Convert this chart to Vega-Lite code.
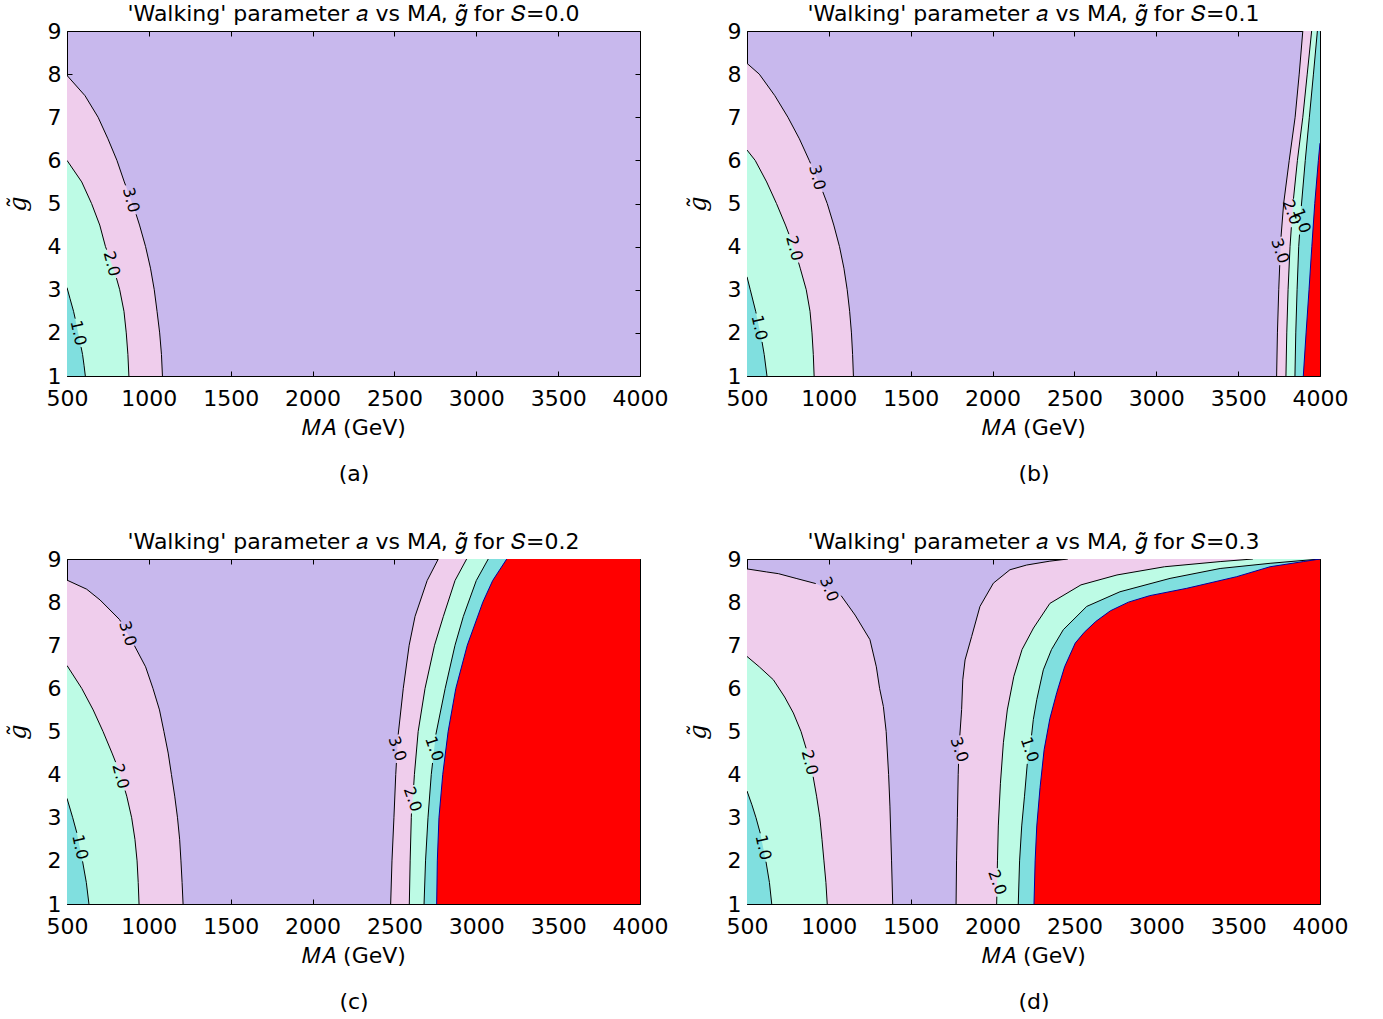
{
"$schema": "https://vega.github.io/schema/vega-lite/v6.json",
"background": "white",
"padding": {"top": 3, "left": 6, "right": 5, "bottom": 5},
"datasets": {
"cv": [
{"p":"a","c":"L1","s":0,"g":3.05,"v":500},{"p":"a","c":"L1","s":0,"g":2.8,"v":518},{"p":"a","c":"L1","s":0,"g":2.5,"v":540},{"p":"a","c":"L1","s":0,"g":2.33,"v":550},
{"p":"a","c":"L1","s":1,"g":1.67,"v":586},{"p":"a","c":"L1","s":1,"g":1.5,"v":595},{"p":"a","c":"L1","s":1,"g":1.25,"v":604},{"p":"a","c":"L1","s":1,"g":1.0,"v":612},
{"p":"a","c":"L2","s":0,"g":6.0,"v":500},{"p":"a","c":"L2","s":0,"g":5.5,"v":590},{"p":"a","c":"L2","s":0,"g":5.0,"v":650},{"p":"a","c":"L2","s":0,"g":4.5,"v":700},{"p":"a","c":"L2","s":0,"g":4.0,"v":735},{"p":"a","c":"L2","s":0,"g":3.93,"v":742},
{"p":"a","c":"L2","s":1,"g":3.27,"v":802},{"p":"a","c":"L2","s":1,"g":3.0,"v":822},{"p":"a","c":"L2","s":1,"g":2.5,"v":848},{"p":"a","c":"L2","s":1,"g":2.0,"v":862},{"p":"a","c":"L2","s":1,"g":1.5,"v":872},{"p":"a","c":"L2","s":1,"g":1.0,"v":878},
{"p":"a","c":"L3","s":0,"g":7.97,"v":500},{"p":"a","c":"L3","s":0,"g":7.5,"v":610},{"p":"a","c":"L3","s":0,"g":7.0,"v":690},{"p":"a","c":"L3","s":0,"g":6.5,"v":750},{"p":"a","c":"L3","s":0,"g":6.0,"v":805},{"p":"a","c":"L3","s":0,"g":5.5,"v":850},{"p":"a","c":"L3","s":0,"g":5.42,"v":858},
{"p":"a","c":"L3","s":1,"g":4.75,"v":922},{"p":"a","c":"L3","s":1,"g":4.5,"v":943},{"p":"a","c":"L3","s":1,"g":4.0,"v":980},{"p":"a","c":"L3","s":1,"g":3.5,"v":1010},{"p":"a","c":"L3","s":1,"g":3.0,"v":1033},{"p":"a","c":"L3","s":1,"g":2.5,"v":1050},{"p":"a","c":"L3","s":1,"g":2.0,"v":1066},{"p":"a","c":"L3","s":1,"g":1.5,"v":1077},{"p":"a","c":"L3","s":1,"g":1.0,"v":1083},

{"p":"b","c":"L1","s":0,"g":3.3,"v":500},{"p":"b","c":"L1","s":0,"g":3.0,"v":520},{"p":"b","c":"L1","s":0,"g":2.5,"v":553},{"p":"b","c":"L1","s":0,"g":2.45,"v":556},
{"p":"b","c":"L1","s":1,"g":1.79,"v":592},{"p":"b","c":"L1","s":1,"g":1.5,"v":605},{"p":"b","c":"L1","s":1,"g":1.0,"v":622},
{"p":"b","c":"L2","s":0,"g":6.24,"v":500},{"p":"b","c":"L2","s":0,"g":6.0,"v":550},{"p":"b","c":"L2","s":0,"g":5.5,"v":620},{"p":"b","c":"L2","s":0,"g":5.0,"v":680},{"p":"b","c":"L2","s":0,"g":4.5,"v":735},{"p":"b","c":"L2","s":0,"g":4.29,"v":756},
{"p":"b","c":"L2","s":1,"g":3.63,"v":815},{"p":"b","c":"L2","s":1,"g":3.5,"v":825},{"p":"b","c":"L2","s":1,"g":3.0,"v":862},{"p":"b","c":"L2","s":1,"g":2.5,"v":885},{"p":"b","c":"L2","s":1,"g":2.0,"v":897},{"p":"b","c":"L2","s":1,"g":1.5,"v":905},{"p":"b","c":"L2","s":1,"g":1.0,"v":910},
{"p":"b","c":"L3","s":0,"g":8.25,"v":500},{"p":"b","c":"L3","s":0,"g":8.0,"v":575},{"p":"b","c":"L3","s":0,"g":7.5,"v":670},{"p":"b","c":"L3","s":0,"g":7.0,"v":750},{"p":"b","c":"L3","s":0,"g":6.5,"v":820},{"p":"b","c":"L3","s":0,"g":6.0,"v":880},{"p":"b","c":"L3","s":0,"g":5.93,"v":888},
{"p":"b","c":"L3","s":1,"g":5.27,"v":963},{"p":"b","c":"L3","s":1,"g":5.0,"v":990},{"p":"b","c":"L3","s":1,"g":4.5,"v":1030},{"p":"b","c":"L3","s":1,"g":4.0,"v":1065},{"p":"b","c":"L3","s":1,"g":3.5,"v":1092},{"p":"b","c":"L3","s":1,"g":3.0,"v":1112},{"p":"b","c":"L3","s":1,"g":2.5,"v":1127},{"p":"b","c":"L3","s":1,"g":2.0,"v":1138},{"p":"b","c":"L3","s":1,"g":1.5,"v":1145},{"p":"b","c":"L3","s":1,"g":1.0,"v":1150},
{"p":"b","c":"R3","s":0,"g":1.0,"v":3735},{"p":"b","c":"R3","s":0,"g":2.0,"v":3740},{"p":"b","c":"R3","s":0,"g":3.0,"v":3748},{"p":"b","c":"R3","s":0,"g":3.57,"v":3754},
{"p":"b","c":"R3","s":1,"g":4.23,"v":3762},{"p":"b","c":"R3","s":1,"g":5.0,"v":3778},{"p":"b","c":"R3","s":1,"g":6.0,"v":3812},{"p":"b","c":"R3","s":1,"g":7.0,"v":3848},{"p":"b","c":"R3","s":1,"g":8.0,"v":3873},{"p":"b","c":"R3","s":1,"g":9.0,"v":3895},
{"p":"b","c":"R2","s":0,"g":1.0,"v":3792},{"p":"b","c":"R2","s":0,"g":2.0,"v":3797},{"p":"b","c":"R2","s":0,"g":3.0,"v":3805},{"p":"b","c":"R2","s":0,"g":4.0,"v":3817},{"p":"b","c":"R2","s":0,"g":4.45,"v":3825},
{"p":"b","c":"R2","s":1,"g":5.11,"v":3838},{"p":"b","c":"R2","s":1,"g":6.0,"v":3862},{"p":"b","c":"R2","s":1,"g":7.0,"v":3895},{"p":"b","c":"R2","s":1,"g":8.0,"v":3922},{"p":"b","c":"R2","s":1,"g":9.0,"v":3949},
{"p":"b","c":"R1","s":0,"g":1.0,"v":3847},{"p":"b","c":"R1","s":0,"g":2.0,"v":3852},{"p":"b","c":"R1","s":0,"g":3.0,"v":3860},{"p":"b","c":"R1","s":0,"g":4.0,"v":3870},{"p":"b","c":"R1","s":0,"g":4.28,"v":3875},
{"p":"b","c":"R1","s":1,"g":4.94,"v":3886},{"p":"b","c":"R1","s":1,"g":6.0,"v":3910},{"p":"b","c":"R1","s":1,"g":7.0,"v":3935},{"p":"b","c":"R1","s":1,"g":8.0,"v":3960},{"p":"b","c":"R1","s":1,"g":9.0,"v":3984},
{"p":"b","c":"R0","s":0,"g":1.0,"v":3898},{"p":"b","c":"R0","s":0,"g":2.0,"v":3915},{"p":"b","c":"R0","s":0,"g":3.0,"v":3933},{"p":"b","c":"R0","s":0,"g":4.0,"v":3950},{"p":"b","c":"R0","s":0,"g":5.0,"v":3968},{"p":"b","c":"R0","s":0,"g":6.0,"v":3990},{"p":"b","c":"R0","s":0,"g":6.4,"v":4000},

{"p":"c","c":"L1","s":0,"g":3.45,"v":500},{"p":"c","c":"L1","s":0,"g":3.0,"v":535},{"p":"c","c":"L1","s":0,"g":2.65,"v":560},
{"p":"c","c":"L1","s":1,"g":1.99,"v":595},{"p":"c","c":"L1","s":1,"g":1.5,"v":618},{"p":"c","c":"L1","s":1,"g":1.0,"v":634},
{"p":"c","c":"L2","s":0,"g":6.53,"v":500},{"p":"c","c":"L2","s":0,"g":6.0,"v":590},{"p":"c","c":"L2","s":0,"g":5.5,"v":660},{"p":"c","c":"L2","s":0,"g":5.0,"v":720},{"p":"c","c":"L2","s":0,"g":4.5,"v":775},{"p":"c","c":"L2","s":0,"g":4.29,"v":797},
{"p":"c","c":"L2","s":1,"g":3.63,"v":855},{"p":"c","c":"L2","s":1,"g":3.5,"v":865},{"p":"c","c":"L2","s":1,"g":3.0,"v":895},{"p":"c","c":"L2","s":1,"g":2.5,"v":915},{"p":"c","c":"L2","s":1,"g":2.0,"v":928},{"p":"c","c":"L2","s":1,"g":1.5,"v":935},{"p":"c","c":"L2","s":1,"g":1.0,"v":940},
{"p":"c","c":"L3","s":0,"g":8.51,"v":500},{"p":"c","c":"L3","s":0,"g":8.3,"v":620},{"p":"c","c":"L3","s":0,"g":8.05,"v":702},{"p":"c","c":"L3","s":0,"g":7.6,"v":820},{"p":"c","c":"L3","s":0,"g":7.55,"v":828},
{"p":"c","c":"L3","s":1,"g":6.99,"v":912},{"p":"c","c":"L3","s":1,"g":6.5,"v":980},{"p":"c","c":"L3","s":1,"g":6.0,"v":1025},{"p":"c","c":"L3","s":1,"g":5.5,"v":1065},{"p":"c","c":"L3","s":1,"g":5.0,"v":1092},{"p":"c","c":"L3","s":1,"g":4.5,"v":1118},{"p":"c","c":"L3","s":1,"g":4.0,"v":1138},{"p":"c","c":"L3","s":1,"g":3.5,"v":1158},{"p":"c","c":"L3","s":1,"g":3.0,"v":1175},{"p":"c","c":"L3","s":1,"g":2.5,"v":1188},{"p":"c","c":"L3","s":1,"g":2.0,"v":1196},{"p":"c","c":"L3","s":1,"g":1.5,"v":1203},{"p":"c","c":"L3","s":1,"g":1.0,"v":1209},
{"p":"c","c":"R3","s":0,"g":1.0,"v":2477},{"p":"c","c":"R3","s":0,"g":2.0,"v":2485},{"p":"c","c":"R3","s":0,"g":3.0,"v":2497},{"p":"c","c":"R3","s":0,"g":4.0,"v":2508},{"p":"c","c":"R3","s":0,"g":4.27,"v":2512},
{"p":"c","c":"R3","s":1,"g":4.93,"v":2523},{"p":"c","c":"R3","s":1,"g":6.0,"v":2554},{"p":"c","c":"R3","s":1,"g":7.0,"v":2590},{"p":"c","c":"R3","s":1,"g":7.67,"v":2626},{"p":"c","c":"R3","s":1,"g":8.5,"v":2700},{"p":"c","c":"R3","s":1,"g":9.0,"v":2768},
{"p":"c","c":"R2","s":0,"g":1.0,"v":2591},{"p":"c","c":"R2","s":0,"g":2.0,"v":2596},{"p":"c","c":"R2","s":0,"g":3.0,"v":2603},{"p":"c","c":"R2","s":0,"g":3.1,"v":2604},
{"p":"c","c":"R2","s":1,"g":3.76,"v":2618},{"p":"c","c":"R2","s":1,"g":4.0,"v":2622},{"p":"c","c":"R2","s":1,"g":5.0,"v":2645},{"p":"c","c":"R2","s":1,"g":6.0,"v":2687},{"p":"c","c":"R2","s":1,"g":7.0,"v":2745},{"p":"c","c":"R2","s":1,"g":7.67,"v":2799},{"p":"c","c":"R2","s":1,"g":8.5,"v":2870},{"p":"c","c":"R2","s":1,"g":9.0,"v":2941},
{"p":"c","c":"R1","s":0,"g":1.0,"v":2681},{"p":"c","c":"R1","s":0,"g":2.0,"v":2690},{"p":"c","c":"R1","s":0,"g":3.0,"v":2705},{"p":"c","c":"R1","s":0,"g":4.0,"v":2725},{"p":"c","c":"R1","s":0,"g":4.27,"v":2733},
{"p":"c","c":"R1","s":1,"g":4.93,"v":2753},{"p":"c","c":"R1","s":1,"g":6.0,"v":2810},{"p":"c","c":"R1","s":1,"g":7.0,"v":2870},{"p":"c","c":"R1","s":1,"g":7.67,"v":2921},{"p":"c","c":"R1","s":1,"g":8.5,"v":3000},{"p":"c","c":"R1","s":1,"g":9.0,"v":3073},
{"p":"c","c":"R0","s":0,"g":1.0,"v":2758},{"p":"c","c":"R0","s":0,"g":2.0,"v":2762},{"p":"c","c":"R0","s":0,"g":3.0,"v":2772},{"p":"c","c":"R0","s":0,"g":4.0,"v":2795},{"p":"c","c":"R0","s":0,"g":5.0,"v":2828},{"p":"c","c":"R0","s":0,"g":6.0,"v":2875},{"p":"c","c":"R0","s":0,"g":7.0,"v":2945},{"p":"c","c":"R0","s":0,"g":8.0,"v":3040},{"p":"c","c":"R0","s":0,"g":8.5,"v":3100},{"p":"c","c":"R0","s":0,"g":9.0,"v":3186},

{"p":"d","c":"L1","s":0,"g":3.62,"v":500},{"p":"d","c":"L1","s":0,"g":3.3,"v":530},{"p":"d","c":"L1","s":0,"g":3.0,"v":555},{"p":"d","c":"L1","s":0,"g":2.64,"v":581},
{"p":"d","c":"L1","s":1,"g":1.98,"v":616},{"p":"d","c":"L1","s":1,"g":1.5,"v":637},{"p":"d","c":"L1","s":1,"g":1.0,"v":651},
{"p":"d","c":"L2","s":0,"g":6.74,"v":500},{"p":"d","c":"L2","s":0,"g":6.5,"v":575},{"p":"d","c":"L2","s":0,"g":6.2,"v":661},{"p":"d","c":"L2","s":0,"g":5.8,"v":730},{"p":"d","c":"L2","s":0,"g":5.43,"v":783},{"p":"d","c":"L2","s":0,"g":5.0,"v":830},{"p":"d","c":"L2","s":0,"g":4.61,"v":861},
{"p":"d","c":"L2","s":1,"g":3.95,"v":904},{"p":"d","c":"L2","s":1,"g":3.5,"v":925},{"p":"d","c":"L2","s":1,"g":3.0,"v":945},{"p":"d","c":"L2","s":1,"g":2.5,"v":958},{"p":"d","c":"L2","s":1,"g":2.0,"v":970},{"p":"d","c":"L2","s":1,"g":1.5,"v":982},{"p":"d","c":"L2","s":1,"g":1.0,"v":990},
{"p":"d","c":"L3","s":0,"g":8.77,"v":500},{"p":"d","c":"L3","s":0,"g":8.7,"v":620},{"p":"d","c":"L3","s":0,"g":8.66,"v":692},{"p":"d","c":"L3","s":0,"g":8.55,"v":800},{"p":"d","c":"L3","s":0,"g":8.43,"v":920},
{"p":"d","c":"L3","s":1,"g":8.15,"v":1075},{"p":"d","c":"L3","s":1,"g":7.7,"v":1160},{"p":"d","c":"L3","s":1,"g":7.13,"v":1251},{"p":"d","c":"L3","s":1,"g":6.5,"v":1290},{"p":"d","c":"L3","s":1,"g":6.0,"v":1310},{"p":"d","c":"L3","s":1,"g":5.58,"v":1333},{"p":"d","c":"L3","s":1,"g":5.0,"v":1350},{"p":"d","c":"L3","s":1,"g":4.0,"v":1365},{"p":"d","c":"L3","s":1,"g":3.27,"v":1373},{"p":"d","c":"L3","s":1,"g":2.0,"v":1383},{"p":"d","c":"L3","s":1,"g":1.0,"v":1390},
{"p":"d","c":"R3","s":0,"g":1.0,"v":1777},{"p":"d","c":"R3","s":0,"g":2.0,"v":1780},{"p":"d","c":"R3","s":0,"g":3.0,"v":1785},{"p":"d","c":"R3","s":0,"g":4.0,"v":1790},{"p":"d","c":"R3","s":0,"g":4.25,"v":1792},
{"p":"d","c":"R3","s":1,"g":4.91,"v":1800},{"p":"d","c":"R3","s":1,"g":5.51,"v":1811},{"p":"d","c":"R3","s":1,"g":6.2,"v":1818},{"p":"d","c":"R3","s":1,"g":6.66,"v":1832},{"p":"d","c":"R3","s":1,"g":7.2,"v":1872},{"p":"d","c":"R3","s":1,"g":7.9,"v":1923},{"p":"d","c":"R3","s":1,"g":8.44,"v":2005},{"p":"d","c":"R3","s":1,"g":8.75,"v":2106},{"p":"d","c":"R3","s":1,"g":8.86,"v":2208},{"p":"d","c":"R3","s":1,"g":8.95,"v":2350},{"p":"d","c":"R3","s":1,"g":9.0,"v":2460},
{"p":"d","c":"R2","s":0,"g":1.0,"v":2025},{"p":"d","c":"R2","s":0,"g":1.17,"v":2026},
{"p":"d","c":"R2","s":1,"g":1.83,"v":2029},{"p":"d","c":"R2","s":1,"g":2.0,"v":2030},{"p":"d","c":"R2","s":1,"g":2.81,"v":2035},{"p":"d","c":"R2","s":1,"g":3.8,"v":2048},{"p":"d","c":"R2","s":1,"g":4.74,"v":2066},{"p":"d","c":"R2","s":1,"g":5.5,"v":2090},{"p":"d","c":"R2","s":1,"g":6.28,"v":2130},{"p":"d","c":"R2","s":1,"g":6.9,"v":2180},{"p":"d","c":"R2","s":1,"g":7.4,"v":2250},{"p":"d","c":"R2","s":1,"g":7.97,"v":2350},{"p":"d","c":"R2","s":1,"g":8.4,"v":2540},{"p":"d","c":"R2","s":1,"g":8.63,"v":2760},{"p":"d","c":"R2","s":1,"g":8.82,"v":3050},{"p":"d","c":"R2","s":1,"g":8.94,"v":3390},{"p":"d","c":"R2","s":1,"g":9.0,"v":3590},
{"p":"d","c":"R1","s":0,"g":1.0,"v":2157},{"p":"d","c":"R1","s":0,"g":2.0,"v":2165},{"p":"d","c":"R1","s":0,"g":2.81,"v":2178},{"p":"d","c":"R1","s":0,"g":3.5,"v":2195},{"p":"d","c":"R1","s":0,"g":4.25,"v":2212},
{"p":"d","c":"R1","s":1,"g":4.91,"v":2238},{"p":"d","c":"R1","s":1,"g":5.28,"v":2249},{"p":"d","c":"R1","s":1,"g":5.74,"v":2270},{"p":"d","c":"R1","s":1,"g":6.43,"v":2310},{"p":"d","c":"R1","s":1,"g":6.9,"v":2360},{"p":"d","c":"R1","s":1,"g":7.36,"v":2432},{"p":"d","c":"R1","s":1,"g":7.9,"v":2575},{"p":"d","c":"R1","s":1,"g":8.24,"v":2778},{"p":"d","c":"R1","s":1,"g":8.55,"v":3084},{"p":"d","c":"R1","s":1,"g":8.78,"v":3390},{"p":"d","c":"R1","s":1,"g":8.9,"v":3695},{"p":"d","c":"R1","s":1,"g":9.0,"v":4000},
{"p":"d","c":"R0","s":0,"g":1.0,"v":2253},{"p":"d","c":"R0","s":0,"g":2.0,"v":2260},{"p":"d","c":"R0","s":0,"g":2.81,"v":2270},{"p":"d","c":"R0","s":0,"g":3.7,"v":2290},{"p":"d","c":"R0","s":0,"g":4.58,"v":2315},{"p":"d","c":"R0","s":0,"g":5.3,"v":2350},{"p":"d","c":"R0","s":0,"g":5.9,"v":2392},{"p":"d","c":"R0","s":0,"g":6.5,"v":2440},{"p":"d","c":"R0","s":0,"g":7.05,"v":2505},{"p":"d","c":"R0","s":0,"g":7.3,"v":2560},{"p":"d","c":"R0","s":0,"g":7.55,"v":2630},{"p":"d","c":"R0","s":0,"g":7.8,"v":2720},{"p":"d","c":"R0","s":0,"g":8.0,"v":2830},{"p":"d","c":"R0","s":0,"g":8.15,"v":2960},{"p":"d","c":"R0","s":0,"g":8.32,"v":3186},{"p":"d","c":"R0","s":0,"g":8.59,"v":3491},{"p":"d","c":"R0","s":0,"g":8.82,"v":3695},{"p":"d","c":"R0","s":0,"g":8.94,"v":3898},{"p":"d","c":"R0","s":0,"g":9.0,"v":4000}
],
"lb": [
{"p":"a","t":"1.0","g":2.0,"v":568,"dir":"d1"},{"p":"a","t":"2.0","g":3.6,"v":772,"dir":"d2"},{"p":"a","t":"3.0","g":5.08,"v":890,"dir":"d2"},
{"p":"b","t":"1.0","g":2.12,"v":574,"dir":"d1"},{"p":"b","t":"2.0","g":3.96,"v":788,"dir":"d2"},{"p":"b","t":"3.0","g":5.6,"v":928,"dir":"d2"},
{"p":"b","t":"3.0","g":3.9,"v":3755,"dir":"u"},{"p":"b","t":"2.0","g":4.8,"v":3826,"dir":"u"},{"p":"b","t":"1.0","g":4.6,"v":3886,"dir":"u"},
{"p":"c","t":"1.0","g":2.32,"v":578,"dir":"d1"},{"p":"c","t":"2.0","g":3.96,"v":826,"dir":"d2"},{"p":"c","t":"3.0","g":7.27,"v":870,"dir":"d3"},
{"p":"c","t":"3.0","g":4.6,"v":2517,"dir":"u"},{"p":"c","t":"2.0","g":3.43,"v":2610,"dir":"u"},{"p":"c","t":"1.0","g":4.6,"v":2742,"dir":"u"},
{"p":"d","t":"1.0","g":2.31,"v":598,"dir":"d1"},{"p":"d","t":"2.0","g":4.28,"v":882,"dir":"d2"},{"p":"d","t":"3.0","g":8.3,"v":1000,"dir":"a"},
{"p":"d","t":"3.0","g":4.58,"v":1796,"dir":"u"},{"p":"d","t":"2.0","g":1.5,"v":2027,"dir":"u"},{"p":"d","t":"1.0","g":4.58,"v":2225,"dir":"u"}
]
},
"columns": 2,
"bounds": "flush",
"spacing": {"row": 183, "column": 107},
"concat": [
{
"width": 573, "height": 345,
"title": "'Walking' parameter 𝑎 vs M𝐴, 𝑔̃ for 𝑆=0.0",
"resolve": {"axis": {"x": "independent", "y": "independent"}},
"encoding": {
"x": {"field": "v", "type": "quantitative", "scale": {"domain": [500, 4000], "nice": false, "zero": false}, "axis": null},
"y": {"field": "g", "type": "quantitative", "scale": {"domain": [1, 9], "nice": false, "zero": false}, "axis": null}
},
"layer": [
{"data": {"name": "cv"}, "transform": [{"filter": "datum.p=='a' && datum.c=='L3'"}], "mark": {"type": "area", "orient": "horizontal", "color": "#efcdec", "clip": true},
"encoding": {
"x": {"field": "v", "type": "quantitative", "scale": {"domain": [500, 4000], "nice": false, "zero": false}, "axis": {"orient": "bottom", "values": [500,1000,1500,2000,2500,3000,3500,4000], "format": "d", "title": ["𝑀𝐴 (GeV)", "(a)"]}},
"y": {"field": "g", "type": "quantitative", "scale": {"domain": [1, 9], "nice": false, "zero": false}, "axis": {"orient": "left", "values": [1,2,3,4,5,6,7,8,9], "format": "d", "title": "g̃", "titleFont": "DejaVu Serif", "titleFontStyle": "italic", "titleFontSize": 24}},
"x2": {"datum": 500}}},
{"data": {"name": "cv"}, "transform": [{"filter": "datum.p=='a' && datum.c=='L2'"}], "mark": {"type": "area", "orient": "horizontal", "color": "#bdfbe5", "clip": true}, "encoding": {"x2": {"datum": 500}}},
{"data": {"name": "cv"}, "transform": [{"filter": "datum.p=='a' && datum.c=='L1'"}], "mark": {"type": "area", "orient": "horizontal", "color": "#80dfdf", "clip": true}, "encoding": {"x2": {"datum": 500}}},
{"data": {"name": "cv"}, "transform": [{"filter": "datum.p=='a' && datum.c!='R0'"}], "mark": {"type": "line", "color": "black", "strokeWidth": 1, "clip": true}, "encoding": {"detail": [{"field": "c"}, {"field": "s"}], "order": {"field": "g", "type": "quantitative"}}},
{"data": {"name": "lb"}, "transform": [{"filter": "datum.p=='a'"}], "mark": {"type": "text", "font": "DejaVu Sans", "fontSize": 16, "color": "black", "align": "center", "baseline": "middle"},
"encoding": {
"text": {"field": "t"},
"angle": {"field": "dir", "type": "nominal", "scale": {"domain": ["d1","d2","d3","u","a"], "range": [78,68,57,-85,27]}, "legend": null},
"x": {"field": "v", "type": "quantitative", "scale": {"domain": [500, 4000], "nice": false, "zero": false}, "axis": {"orient": "top", "values": [500,1000,1500,2000,2500,3000,3500,4000], "labels": false, "title": null}},
"y": {"field": "g", "type": "quantitative", "scale": {"domain": [1, 9], "nice": false, "zero": false}, "axis": {"orient": "right", "values": [1,2,3,4,5,6,7,8,9], "labels": false, "title": null}}}}
]
},
{
"width": 573, "height": 345,
"title": "'Walking' parameter 𝑎 vs M𝐴, 𝑔̃ for 𝑆=0.1",
"resolve": {"axis": {"x": "independent", "y": "independent"}},
"encoding": {
"x": {"field": "v", "type": "quantitative", "scale": {"domain": [500, 4000], "nice": false, "zero": false}, "axis": null},
"y": {"field": "g", "type": "quantitative", "scale": {"domain": [1, 9], "nice": false, "zero": false}, "axis": null}
},
"layer": [
{"data": {"name": "cv"}, "transform": [{"filter": "datum.p=='b' && datum.c=='L3'"}], "mark": {"type": "area", "orient": "horizontal", "color": "#efcdec", "clip": true},
"encoding": {
"x": {"field": "v", "type": "quantitative", "scale": {"domain": [500, 4000], "nice": false, "zero": false}, "axis": {"orient": "bottom", "values": [500,1000,1500,2000,2500,3000,3500,4000], "format": "d", "title": ["𝑀𝐴 (GeV)", "(b)"]}},
"y": {"field": "g", "type": "quantitative", "scale": {"domain": [1, 9], "nice": false, "zero": false}, "axis": {"orient": "left", "values": [1,2,3,4,5,6,7,8,9], "format": "d", "title": "g̃", "titleFont": "DejaVu Serif", "titleFontStyle": "italic", "titleFontSize": 24}},
"x2": {"datum": 500}}},
{"data": {"name": "cv"}, "transform": [{"filter": "datum.p=='b' && datum.c=='L2'"}], "mark": {"type": "area", "orient": "horizontal", "color": "#bdfbe5", "clip": true}, "encoding": {"x2": {"datum": 500}}},
{"data": {"name": "cv"}, "transform": [{"filter": "datum.p=='b' && datum.c=='L1'"}], "mark": {"type": "area", "orient": "horizontal", "color": "#80dfdf", "clip": true}, "encoding": {"x2": {"datum": 500}}},
{"data": {"name": "cv"}, "transform": [{"filter": "datum.p=='b' && datum.c=='R3'"}], "mark": {"type": "area", "orient": "horizontal", "color": "#efcdec", "clip": true}, "encoding": {"x2": {"datum": 4000}}},
{"data": {"name": "cv"}, "transform": [{"filter": "datum.p=='b' && datum.c=='R2'"}], "mark": {"type": "area", "orient": "horizontal", "color": "#bdfbe5", "clip": true}, "encoding": {"x2": {"datum": 4000}}},
{"data": {"name": "cv"}, "transform": [{"filter": "datum.p=='b' && datum.c=='R1'"}], "mark": {"type": "area", "orient": "horizontal", "color": "#80dfdf", "clip": true}, "encoding": {"x2": {"datum": 4000}}},
{"data": {"name": "cv"}, "transform": [{"filter": "datum.p=='b' && datum.c=='R0'"}], "mark": {"type": "area", "orient": "horizontal", "color": "#ff0000", "clip": true}, "encoding": {"x2": {"datum": 4000}}},
{"data": {"name": "cv"}, "transform": [{"filter": "datum.p=='b' && datum.c!='R0'"}], "mark": {"type": "line", "color": "black", "strokeWidth": 1, "clip": true}, "encoding": {"detail": [{"field": "c"}, {"field": "s"}], "order": {"field": "g", "type": "quantitative"}}},
{"data": {"name": "cv"}, "transform": [{"filter": "datum.p=='b' && datum.c=='R0'"}], "mark": {"type": "line", "color": "#0000a0", "strokeWidth": 1, "clip": true}, "encoding": {"order": {"field": "g", "type": "quantitative"}}},
{"data": {"name": "lb"}, "transform": [{"filter": "datum.p=='b'"}], "mark": {"type": "text", "font": "DejaVu Sans", "fontSize": 16, "color": "black", "align": "center", "baseline": "middle"},
"encoding": {
"text": {"field": "t"},
"angle": {"field": "dir", "type": "nominal", "scale": {"domain": ["d1","d2","d3","u","a"], "range": [78,68,57,-85,27]}, "legend": null},
"x": {"field": "v", "type": "quantitative", "scale": {"domain": [500, 4000], "nice": false, "zero": false}, "axis": {"orient": "top", "values": [500,1000,1500,2000,2500,3000,3500,4000], "labels": false, "title": null}},
"y": {"field": "g", "type": "quantitative", "scale": {"domain": [1, 9], "nice": false, "zero": false}, "axis": {"orient": "right", "values": [1,2,3,4,5,6,7,8,9], "labels": false, "title": null}}}}
]
},
{
"width": 573, "height": 345,
"title": "'Walking' parameter 𝑎 vs M𝐴, 𝑔̃ for 𝑆=0.2",
"resolve": {"axis": {"x": "independent", "y": "independent"}},
"encoding": {
"x": {"field": "v", "type": "quantitative", "scale": {"domain": [500, 4000], "nice": false, "zero": false}, "axis": null},
"y": {"field": "g", "type": "quantitative", "scale": {"domain": [1, 9], "nice": false, "zero": false}, "axis": null}
},
"layer": [
{"data": {"name": "cv"}, "transform": [{"filter": "datum.p=='c' && datum.c=='L3'"}], "mark": {"type": "area", "orient": "horizontal", "color": "#efcdec", "clip": true},
"encoding": {
"x": {"field": "v", "type": "quantitative", "scale": {"domain": [500, 4000], "nice": false, "zero": false}, "axis": {"orient": "bottom", "values": [500,1000,1500,2000,2500,3000,3500,4000], "format": "d", "title": ["𝑀𝐴 (GeV)", "(c)"]}},
"y": {"field": "g", "type": "quantitative", "scale": {"domain": [1, 9], "nice": false, "zero": false}, "axis": {"orient": "left", "values": [1,2,3,4,5,6,7,8,9], "format": "d", "title": "g̃", "titleFont": "DejaVu Serif", "titleFontStyle": "italic", "titleFontSize": 24}},
"x2": {"datum": 500}}},
{"data": {"name": "cv"}, "transform": [{"filter": "datum.p=='c' && datum.c=='L2'"}], "mark": {"type": "area", "orient": "horizontal", "color": "#bdfbe5", "clip": true}, "encoding": {"x2": {"datum": 500}}},
{"data": {"name": "cv"}, "transform": [{"filter": "datum.p=='c' && datum.c=='L1'"}], "mark": {"type": "area", "orient": "horizontal", "color": "#80dfdf", "clip": true}, "encoding": {"x2": {"datum": 500}}},
{"data": {"name": "cv"}, "transform": [{"filter": "datum.p=='c' && datum.c=='R3'"}], "mark": {"type": "area", "orient": "horizontal", "color": "#efcdec", "clip": true}, "encoding": {"x2": {"datum": 4000}}},
{"data": {"name": "cv"}, "transform": [{"filter": "datum.p=='c' && datum.c=='R2'"}], "mark": {"type": "area", "orient": "horizontal", "color": "#bdfbe5", "clip": true}, "encoding": {"x2": {"datum": 4000}}},
{"data": {"name": "cv"}, "transform": [{"filter": "datum.p=='c' && datum.c=='R1'"}], "mark": {"type": "area", "orient": "horizontal", "color": "#80dfdf", "clip": true}, "encoding": {"x2": {"datum": 4000}}},
{"data": {"name": "cv"}, "transform": [{"filter": "datum.p=='c' && datum.c=='R0'"}], "mark": {"type": "area", "orient": "horizontal", "color": "#ff0000", "clip": true}, "encoding": {"x2": {"datum": 4000}}},
{"data": {"name": "cv"}, "transform": [{"filter": "datum.p=='c' && datum.c!='R0'"}], "mark": {"type": "line", "color": "black", "strokeWidth": 1, "clip": true}, "encoding": {"detail": [{"field": "c"}, {"field": "s"}], "order": {"field": "g", "type": "quantitative"}}},
{"data": {"name": "cv"}, "transform": [{"filter": "datum.p=='c' && datum.c=='R0'"}], "mark": {"type": "line", "color": "#0000a0", "strokeWidth": 1, "clip": true}, "encoding": {"order": {"field": "g", "type": "quantitative"}}},
{"data": {"name": "lb"}, "transform": [{"filter": "datum.p=='c'"}], "mark": {"type": "text", "font": "DejaVu Sans", "fontSize": 16, "color": "black", "align": "center", "baseline": "middle"},
"encoding": {
"text": {"field": "t"},
"angle": {"field": "dir", "type": "nominal", "scale": {"domain": ["d1","d2","d3","u","a"], "range": [78,68,57,-85,27]}, "legend": null},
"x": {"field": "v", "type": "quantitative", "scale": {"domain": [500, 4000], "nice": false, "zero": false}, "axis": {"orient": "top", "values": [500,1000,1500,2000,2500,3000,3500,4000], "labels": false, "title": null}},
"y": {"field": "g", "type": "quantitative", "scale": {"domain": [1, 9], "nice": false, "zero": false}, "axis": {"orient": "right", "values": [1,2,3,4,5,6,7,8,9], "labels": false, "title": null}}}}
]
},
{
"width": 573, "height": 345,
"title": "'Walking' parameter 𝑎 vs M𝐴, 𝑔̃ for 𝑆=0.3",
"resolve": {"axis": {"x": "independent", "y": "independent"}},
"encoding": {
"x": {"field": "v", "type": "quantitative", "scale": {"domain": [500, 4000], "nice": false, "zero": false}, "axis": null},
"y": {"field": "g", "type": "quantitative", "scale": {"domain": [1, 9], "nice": false, "zero": false}, "axis": null}
},
"layer": [
{"data": {"name": "cv"}, "transform": [{"filter": "datum.p=='d' && datum.c=='L3'"}], "mark": {"type": "area", "orient": "horizontal", "color": "#efcdec", "clip": true},
"encoding": {
"x": {"field": "v", "type": "quantitative", "scale": {"domain": [500, 4000], "nice": false, "zero": false}, "axis": {"orient": "bottom", "values": [500,1000,1500,2000,2500,3000,3500,4000], "format": "d", "title": ["𝑀𝐴 (GeV)", "(d)"]}},
"y": {"field": "g", "type": "quantitative", "scale": {"domain": [1, 9], "nice": false, "zero": false}, "axis": {"orient": "left", "values": [1,2,3,4,5,6,7,8,9], "format": "d", "title": "g̃", "titleFont": "DejaVu Serif", "titleFontStyle": "italic", "titleFontSize": 24}},
"x2": {"datum": 500}}},
{"data": {"name": "cv"}, "transform": [{"filter": "datum.p=='d' && datum.c=='L2'"}], "mark": {"type": "area", "orient": "horizontal", "color": "#bdfbe5", "clip": true}, "encoding": {"x2": {"datum": 500}}},
{"data": {"name": "cv"}, "transform": [{"filter": "datum.p=='d' && datum.c=='L1'"}], "mark": {"type": "area", "orient": "horizontal", "color": "#80dfdf", "clip": true}, "encoding": {"x2": {"datum": 500}}},
{"data": {"name": "cv"}, "transform": [{"filter": "datum.p=='d' && datum.c=='R3'"}], "mark": {"type": "area", "orient": "horizontal", "color": "#efcdec", "clip": true}, "encoding": {"x2": {"datum": 4000}}},
{"data": {"name": "cv"}, "transform": [{"filter": "datum.p=='d' && datum.c=='R2'"}], "mark": {"type": "area", "orient": "horizontal", "color": "#bdfbe5", "clip": true}, "encoding": {"x2": {"datum": 4000}}},
{"data": {"name": "cv"}, "transform": [{"filter": "datum.p=='d' && datum.c=='R1'"}], "mark": {"type": "area", "orient": "horizontal", "color": "#80dfdf", "clip": true}, "encoding": {"x2": {"datum": 4000}}},
{"data": {"name": "cv"}, "transform": [{"filter": "datum.p=='d' && datum.c=='R0'"}], "mark": {"type": "area", "orient": "horizontal", "color": "#ff0000", "clip": true}, "encoding": {"x2": {"datum": 4000}}},
{"data": {"name": "cv"}, "transform": [{"filter": "datum.p=='d' && datum.c!='R0'"}], "mark": {"type": "line", "color": "black", "strokeWidth": 1, "clip": true}, "encoding": {"detail": [{"field": "c"}, {"field": "s"}], "order": {"field": "g", "type": "quantitative"}}},
{"data": {"name": "cv"}, "transform": [{"filter": "datum.p=='d' && datum.c=='R0'"}], "mark": {"type": "line", "color": "#0000a0", "strokeWidth": 1, "clip": true}, "encoding": {"order": {"field": "g", "type": "quantitative"}}},
{"data": {"name": "lb"}, "transform": [{"filter": "datum.p=='d'"}], "mark": {"type": "text", "font": "DejaVu Sans", "fontSize": 16, "color": "black", "align": "center", "baseline": "middle"},
"encoding": {
"text": {"field": "t"},
"angle": {"field": "dir", "type": "nominal", "scale": {"domain": ["d1","d2","d3","u","a"], "range": [78,68,57,-85,27]}, "legend": null},
"x": {"field": "v", "type": "quantitative", "scale": {"domain": [500, 4000], "nice": false, "zero": false}, "axis": {"orient": "top", "values": [500,1000,1500,2000,2500,3000,3500,4000], "labels": false, "title": null}},
"y": {"field": "g", "type": "quantitative", "scale": {"domain": [1, 9], "nice": false, "zero": false}, "axis": {"orient": "right", "values": [1,2,3,4,5,6,7,8,9], "labels": false, "title": null}}}}
]
}
],
"config": {
"font": "DejaVu Sans",
"view": {"stroke": null, "fill": "#c8b8ed"},
"axis": {"domain": true, "domainColor": "black", "domainWidth": 1, "grid": false, "zindex": 1,
"ticks": true, "tickColor": "black", "tickSize": -5, "tickWidth": 1,
"labelFont": "DejaVu Sans", "labelFontSize": 22, "labelColor": "black", "labelFlush": false,
"titleFont": "DejaVu Sans", "titleFontSize": 22, "titleFontWeight": "normal", "titleColor": "black", "titleLineHeight": 46},
"axisX": {"labelPadding": 17, "titlePadding": 8},
"axisY": {"labelPadding": 11, "titlePadding": 17},
"title": {"font": "DejaVu Sans", "fontSize": 22, "fontWeight": "normal", "color": "black", "anchor": "middle", "offset": -6}
}
}
